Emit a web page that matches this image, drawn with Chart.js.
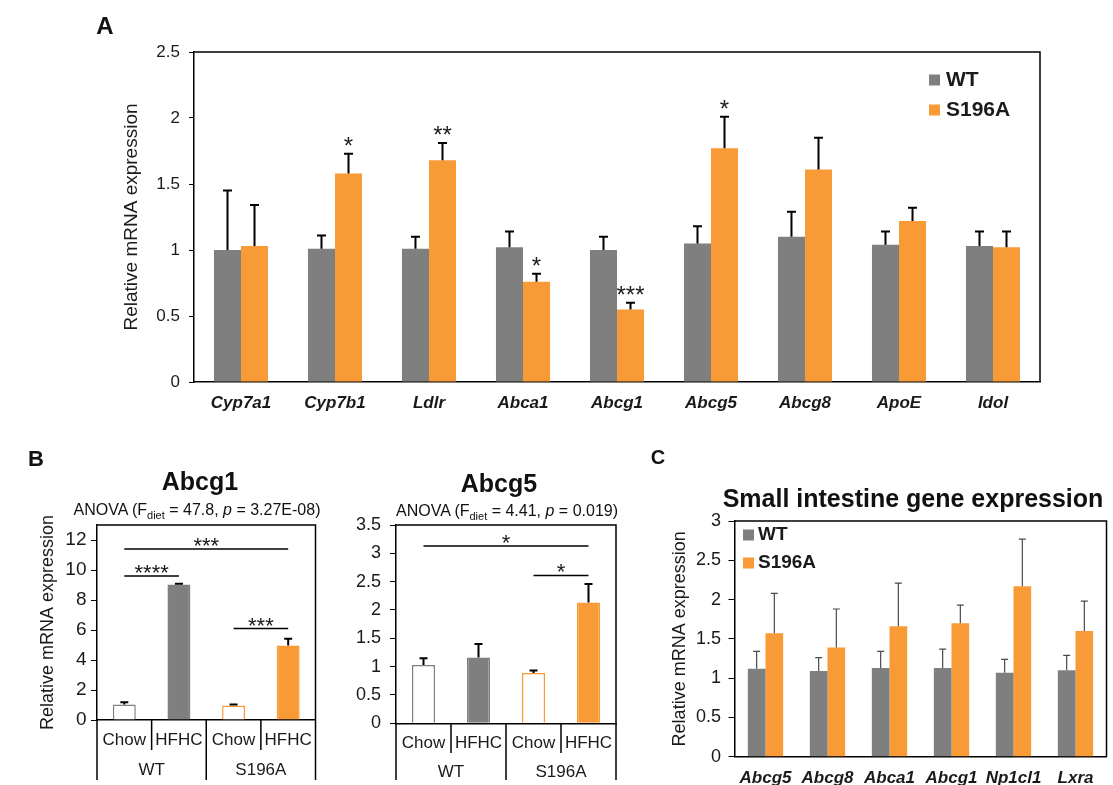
<!DOCTYPE html>
<html><head><meta charset="utf-8">
<script src="https://cdn.jsdelivr.net/npm/chart.js@4.4.0/dist/chart.umd.min.js"></script>
<style>
html,body{margin:0;padding:0;background:#fff;}
#wrap{position:relative;width:1113px;height:785px;overflow:hidden;font-family:'Liberation Sans',Arial,sans-serif;color:#111;}
canvas{position:absolute;left:0;top:0;}
.t{position:absolute;transform:translate(-50%,-50%);line-height:1;white-space:nowrap;}
.b{font-weight:bold;}
.sub{font-size:11px;vertical-align:-4px;line-height:0;}
</style></head><body>
<div id="wrap">
<canvas id="cA" width="1113" height="785"></canvas>
<canvas id="cB1" width="1113" height="785"></canvas>
<canvas id="cB2" width="1113" height="785"></canvas>
<canvas id="cC" width="1113" height="785"></canvas>
<div class="t b" style="left:105px;top:26px;font-size:24px">A</div>
<div class="t b" style="left:36px;top:459px;font-size:22px">B</div>
<div class="t b" style="left:658px;top:457px;font-size:20px">C</div>
<div class="t b" style="left:200px;top:481px;font-size:25px">Abcg1</div>
<div class="t" style="left:197px;top:510px;font-size:16px">ANOVA (F<span class="sub">diet</span> = 47.8, <i>p</i> = 3.27E-08)</div>
<div class="t b" style="left:499px;top:483px;font-size:25px">Abcg5</div>
<div class="t" style="left:507px;top:511px;font-size:16px">ANOVA (F<span class="sub">diet</span> = 4.41, <i>p</i> = 0.019)</div>
<div class="t b" style="left:913px;top:498px;font-size:25px">Small intestine gene expression</div>
</div>
<script>
// ---------- data ----------
const geneA = ['Cyp7a1','Cyp7b1','Ldlr','Abca1','Abcg1','Abcg5','Abcg8','ApoE','Idol'];
const wtA = [1.00, 1.01, 1.01, 1.02, 1.00, 1.05, 1.10, 1.04, 1.03];
const wtErrA = [0.45, 0.10, 0.09, 0.12, 0.10, 0.13, 0.19, 0.10, 0.11];
const mutA = [1.03, 1.58, 1.68, 0.76, 0.55, 1.77, 1.61, 1.22, 1.02];
const mutErrA = [0.31, 0.15, 0.13, 0.06, 0.05, 0.24, 0.24, 0.10, 0.12];
const starsA = ['', '*', '**', '*', '***', '*', '', '', ''];

const dietB = ['Chow','HFHC','Chow','HFHC'];
const genotypeB = ['WT','S196A'];
const abcg1B = [1.04, 9.04, 0.96, 4.96];
const abcg1ErrB = [0.14, 0.05, 0.08, 0.46];
const abcg1Brackets = [[0,1,9.6,'****'],[0,3,11.4,'***'],[2,3,6.1,'***']];
const abcg5B = [1.03, 1.16, 0.89, 2.13];
const abcg5ErrB = [0.12, 0.24, 0.04, 0.33];
const abcg5Brackets = [[0,3,3.13,'*'],[2,3,2.61,'*']];

const geneC = ['Abcg5','Abcg8','Abca1','Abcg1','Np1cl1','Lxra'];
const wtC = [1.12, 1.09, 1.13, 1.13, 1.07, 1.10];
const wtErrC = [0.22, 0.17, 0.21, 0.24, 0.17, 0.19];
const mutC = [1.57, 1.39, 1.66, 1.70, 2.17, 1.60];
const mutErrC = [0.51, 0.49, 0.55, 0.23, 0.60, 0.38];

// ---------- style ----------
const FONT = "'Liberation Sans', Arial, sans-serif";
const GRAY = '#7f7f7f', ORANGE = '#f89a36', INK = '#1a1a1a';

// ---------- plugins ----------
const boxPlugin = { id:'box', afterDraw(chart){
  const {left,top,right,bottom} = chart.chartArea, ctx = chart.ctx;
  ctx.save(); ctx.strokeStyle='#000'; ctx.lineWidth=1.5; ctx.beginPath();
  ctx.moveTo(left,top); ctx.lineTo(right,top); ctx.lineTo(right,bottom); ctx.stroke(); ctx.restore();
}};
const errorPlugin = { id:'errorBars', afterDatasetsDraw(chart, a, o){
  const y = chart.scales.y, ctx = chart.ctx;
  chart.data.datasets.forEach((ds, di) => {
    if (!ds.errors) return;
    chart.getDatasetMeta(di).data.forEach((bar, i) => {
      const top = y.getPixelForValue(ds.data[i] + ds.errors[i]);
      ctx.save(); ctx.strokeStyle = o.color; ctx.lineWidth = o.width; ctx.beginPath();
      ctx.moveTo(bar.x, bar.y); ctx.lineTo(bar.x, top);
      ctx.moveTo(bar.x - o.cap/2, top); ctx.lineTo(bar.x + o.cap/2, top); ctx.stroke(); ctx.restore();
    });
  });
}};
const starPlugin = { id:'stars', afterDatasetsDraw(chart, a, o){
  const y = chart.scales.y, ctx = chart.ctx;
  chart.data.datasets.forEach((ds, di) => {
    if (!ds.stars) return;
    chart.getDatasetMeta(di).data.forEach((bar, i) => {
      const s = ds.stars[i]; if (!s) return;
      const top = y.getPixelForValue(ds.data[i] + ds.errors[i]);
      ctx.save(); ctx.fillStyle = INK; ctx.font = o.size + 'px ' + FONT;
      ctx.textAlign = 'center'; ctx.textBaseline = 'alphabetic';
      ctx.fillText(s, bar.x, top - o.gap); ctx.restore();
    });
  });
}};
const legendPlugin = { id:'sqLegend', afterDraw(chart, a, o){
  if (o.x === undefined) return;
  const ctx = chart.ctx; ctx.save(); ctx.font = 'bold ' + o.size + 'px ' + FONT; ctx.textBaseline = 'middle';
  chart.data.datasets.forEach((ds, i) => {
    const cy = o.y + i * o.gap;
    ctx.fillStyle = ds.backgroundColor; ctx.fillRect(o.x, cy - o.sq/2, o.sq, o.sq);
    ctx.fillStyle = INK; ctx.fillText(ds.label, o.x + o.sq + o.tx, cy);
  });
  ctx.restore();
}};
const bracketPlugin = { id:'brackets', afterDatasetsDraw(chart, a, o){
  if (!o.list) return;
  const x = chart.scales.x, y = chart.scales.y, ctx = chart.ctx;
  ctx.save(); ctx.strokeStyle = '#000'; ctx.lineWidth = 1.5; ctx.fillStyle = INK;
  ctx.font = o.size + 'px ' + FONT; ctx.textAlign = 'center'; ctx.textBaseline = 'alphabetic';
  o.list.forEach(([i, j, v, s]) => {
    const x1 = x.getPixelForValue(i), x2 = x.getPixelForValue(j), yy = y.getPixelForValue(v);
    ctx.beginPath(); ctx.moveTo(x1, yy); ctx.lineTo(x2, yy); ctx.stroke();
    ctx.fillText(s, (x1 + x2) / 2, yy + o.dy);
  });
  ctx.restore();
}};
const tablePlugin = { id:'table', afterDraw(chart, a, o){
  if (!o.groups) return;
  const x = chart.scales.x, ca = chart.chartArea, ctx = chart.ctx, n = chart.data.labels.length;
  const bnd = i => i === 0 ? ca.left : i === n ? ca.right : (x.getPixelForValue(i - 1) + x.getPixelForValue(i)) / 2;
  ctx.save(); ctx.strokeStyle = '#000'; ctx.lineWidth = 1.5; ctx.beginPath();
  for (let i = 0; i <= n; i++) {
    const xx = bnd(i);
    ctx.moveTo(xx, ca.bottom); ctx.lineTo(xx, i % 2 === 0 ? o.bottom : o.shortBottom);
  }
  ctx.stroke();
  ctx.fillStyle = INK; ctx.font = '17px ' + FONT; ctx.textAlign = 'center'; ctx.textBaseline = 'middle';
  o.groups.forEach((g, gi) => ctx.fillText(g, (bnd(gi * 2) + bnd(gi * 2 + 2)) / 2, o.groupY));
  ctx.restore();
}};
const allPlugins = [boxPlugin, errorPlugin, starPlugin, legendPlugin, bracketPlugin, tablePlugin];

function yScale(p){
  const s = {
    min: 0, max: p.max,
    afterFit(sc){ sc.width = p.w; },
    ticks: { stepSize: p.step, includeBounds: false, font: { family: FONT, size: p.tickSize }, color: INK, padding: p.tickPad,
             callback: v => String(Math.round(v * 10) / 10) },
    grid: { drawOnChartArea: false, drawTicks: true, tickLength: p.tickLen, color: '#000', lineWidth: 1 },
    border: { color: '#000', width: 1.5 }
  };
  if (p.title) s.title = { display: true, text: 'Relative mRNA expression', font: { family: FONT, size: p.titleSize }, color: INK, padding: { top: p.titlePad, bottom: 0 } };
  return s;
}
function xScale(p){
  return {
    afterFit(sc){ sc.height = p.h; },
    grid: { display: false, drawTicks: false },
    border: { color: '#000', width: 1.5 },
    ticks: { font: p.font, color: INK, padding: p.pad, autoSkip: false, maxRotation: 0, minRotation: 0 }
  };
}
const base = { responsive: false, animation: false, events: [] };
const italicBold = size => ({ family: FONT, size: size, style: 'italic', weight: 'bold' });

// ---------- Panel A ----------
new Chart('cA', {
  type: 'bar',
  data: { labels: geneA, datasets: [
    { label: 'WT', data: wtA, errors: wtErrA, backgroundColor: GRAY },
    { label: 'S196A', data: mutA, errors: mutErrA, stars: starsA, backgroundColor: ORANGE }
  ]},
  options: Object.assign({}, base, {
    layout: { padding: { left: 94, top: 52, right: 73, bottom: 363 } },
    datasets: { bar: { categoryPercentage: 0.575, barPercentage: 1 } },
    plugins: { legend: { display: false }, tooltip: { enabled: false },
      errorBars: { color: '#000', width: 2, cap: 9 },
      stars: { size: 24, gap: 0 },
      sqLegend: { x: 929, y: 80, gap: 30, sq: 11, tx: 6, size: 21 } },
    scales: {
      x: xScale({ h: 40, pad: 11, font: italicBold(17) }),
      y: yScale({ max: 2.5, step: 0.5, w: 100, tickSize: 17, tickPad: 9, tickLen: 5, title: true, titleSize: 19, titlePad: 26 })
    }
  }),
  plugins: allPlugins
});

// ---------- Panel B: Abcg1 ----------
new Chart('cB1', {
  type: 'bar',
  data: { labels: dietB, datasets: [
    { label: 'Abcg1', data: abcg1B, errors: abcg1ErrB,
      backgroundColor: ['#ffffff', GRAY, '#ffffff', ORANGE],
      borderColor: [GRAY, GRAY, ORANGE, ORANGE], borderWidth: 1.5 }
  ]},
  options: Object.assign({}, base, {
    layout: { padding: { left: 17, top: 525, right: 797.5, bottom: 0 } },
    datasets: { bar: { categoryPercentage: 0.42, barPercentage: 1 } },
    plugins: { legend: { display: false }, tooltip: { enabled: false },
      errorBars: { color: '#000', width: 2, cap: 8 },
      brackets: { list: abcg1Brackets, size: 22, dy: 4 },
      table: { groups: genotypeB, bottom: 780, shortBottom: 750, groupY: 770 } },
    scales: {
      x: xScale({ h: 65, pad: 10, font: { family: FONT, size: 17 } }),
      y: yScale({ max: 13, step: 2, w: 80, tickSize: 19, tickPad: 4.5, tickLen: 6, title: true, titleSize: 18, titlePad: 20 })
    }
  }),
  plugins: allPlugins
});

// ---------- Panel B: Abcg5 ----------
new Chart('cB2', {
  type: 'bar',
  data: { labels: dietB, datasets: [
    { label: 'Abcg5', data: abcg5B, errors: abcg5ErrB,
      backgroundColor: ['#ffffff', GRAY, '#ffffff', ORANGE],
      borderColor: [GRAY, GRAY, ORANGE, ORANGE], borderWidth: 1.5 }
  ]},
  options: Object.assign({}, base, {
    layout: { padding: { left: 316, top: 525, right: 497, bottom: 0 } },
    datasets: { bar: { categoryPercentage: 0.42, barPercentage: 1 } },
    plugins: { legend: { display: false }, tooltip: { enabled: false },
      errorBars: { color: '#000', width: 2, cap: 8 },
      brackets: { list: abcg5Brackets, size: 22, dy: 4 },
      table: { groups: genotypeB, bottom: 780, shortBottom: 753, groupY: 772 } },
    scales: {
      x: xScale({ h: 61.7, pad: 10, font: { family: FONT, size: 17 } }),
      y: yScale({ max: 3.5, step: 0.5, w: 80, tickSize: 18, tickPad: 9, tickLen: 6, title: false })
    }
  }),
  plugins: allPlugins
});

// ---------- Panel C ----------
new Chart('cC', {
  type: 'bar',
  data: { labels: geneC, datasets: [
    { label: 'WT', data: wtC, errors: wtErrC, backgroundColor: GRAY },
    { label: 'S196A', data: mutC, errors: mutErrC, backgroundColor: ORANGE }
  ]},
  options: Object.assign({}, base, {
    layout: { padding: { left: 664.5, top: 521, right: 6.5, bottom: 0 } },
    datasets: { bar: { categoryPercentage: 0.57, barPercentage: 1 } },
    plugins: { legend: { display: false }, tooltip: { enabled: false },
      errorBars: { color: '#4a4a4a', width: 1.2, cap: 7 },
      sqLegend: { x: 743, y: 535, gap: 28, sq: 11, tx: 4, size: 19 } },
    scales: {
      x: xScale({ h: 28.3, pad: 11, font: italicBold(17) }),
      y: yScale({ max: 3, step: 0.5, w: 70, tickSize: 18, tickPad: 7.5, tickLen: 6, title: true, titleSize: 18, titlePad: 4.7 })
    }
  }),
  plugins: allPlugins
});
</script>
</body></html>
